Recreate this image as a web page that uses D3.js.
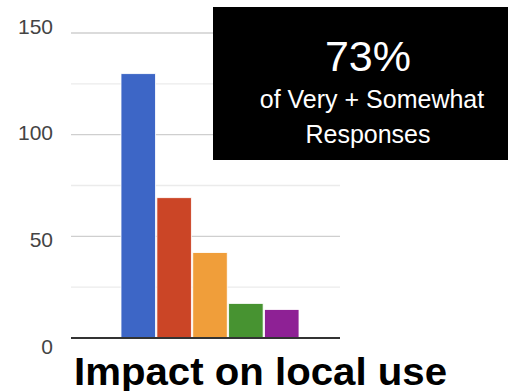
<!DOCTYPE html>
<html>
<head>
<meta charset="utf-8">
<script src="https://cdn.jsdelivr.net/npm/d3@7"></script>
<style>
  body { margin: 0; background: #fff; }
  svg { display: block; }
</style>
</head>
<body>
<div id="chart"></div>
<script>
// response categories, most to least
const categories = ['Very', 'Somewhat', 'Neutral', 'Not very', 'Not at all']
const counts = [130, 69, 42, 17, 14]
const colors = ['#3d66c6', '#cb4526', '#f09e3a', '#479331', '#8e2195']
const tickValues = [0, 50, 100, 150]
const gridValues = [0, 25, 50, 75, 100, 125, 150]
const title = 'Impact on local use'
const calloutLines = ['73%', 'of Very + Somewhat', 'Responses']

const width = 518, height = 391

const svg = d3.select('#chart').append('svg')
  .attr('width', width)
  .attr('height', height)

const y = d3.scaleLinear().domain([0, 150]).range([338, 33])
// labels were laid out a bit looser than the gridlines
const yLabel = d3.scaleLinear().domain([0, 150]).range([346, 26])

const x = d3.scaleBand()
  .domain(categories)
  .range([121, 299])
  .paddingInner(0.04)

// gridlines
svg.append('g')
  .selectAll('line')
  .data(gridValues.filter(d => d > 0))
  .enter().append('line')
    .attr('x1', 71).attr('x2', 340)
    .attr('y1', d => y(d)).attr('y2', d => y(d))
    .attr('stroke', d => d % 50 === 0 ? '#cfcfcf' : '#ebebeb')
    .attr('stroke-width', 1.3)

// tick labels
svg.append('g')
  .selectAll('text')
  .data(tickValues)
  .enter().append('text')
    .attr('x', 53)
    .attr('y', d => yLabel(d))
    .attr('dy', '0.36em')
    .attr('text-anchor', 'end')
    .attr('font-family', 'Liberation Sans, Arial, sans-serif')
    .attr('font-size', 21)
    .attr('fill', '#444')
    .text(d => d)

// bars
svg.append('g')
  .selectAll('rect')
  .data(counts)
  .enter().append('rect')
    .attr('x', (d, i) => x(categories[i]))
    .attr('y', d => y(d))
    .attr('width', x.bandwidth())
    .attr('height', d => y(0) - y(d))
    .attr('fill', (d, i) => colors[i])
    .attr('stroke', '#fff')
    .attr('stroke-width', 0.8)

// baseline
svg.append('line')
  .attr('x1', 71).attr('x2', 340)
  .attr('y1', y(0)).attr('y2', y(0))
  .attr('stroke', '#333')
  .attr('stroke-width', 2)

// callout box
const box = svg.append('g')
box.append('rect')
  .attr('x', 213).attr('y', 7)
  .attr('width', 295).attr('height', 153)
  .attr('fill', '#000')

box.selectAll('text')
  .data(calloutLines)
  .enter().append('text')
    .attr('x', (d, i) => [368, 372, 368][i])
    .attr('y', (d, i) => [71, 108, 143][i])
    .attr('text-anchor', 'middle')
    .attr('font-family', 'Liberation Sans, Arial, sans-serif')
    .attr('font-size', (d, i) => i === 0 ? 43 : 25)
    .attr('fill', '#fff')
    .text(d => d)

// title
svg.append('text')
  .attr('x', 74)
  .attr('y', 385)
  .attr('font-family', 'Liberation Sans, Arial, sans-serif')
  .attr('font-weight', 'bold')
  .attr('font-size', 39)
  .attr('textLength', 373)
  .attr('lengthAdjust', 'spacingAndGlyphs')
  .attr('fill', '#000')
  .text(title)
</script>
</body>
</html>
